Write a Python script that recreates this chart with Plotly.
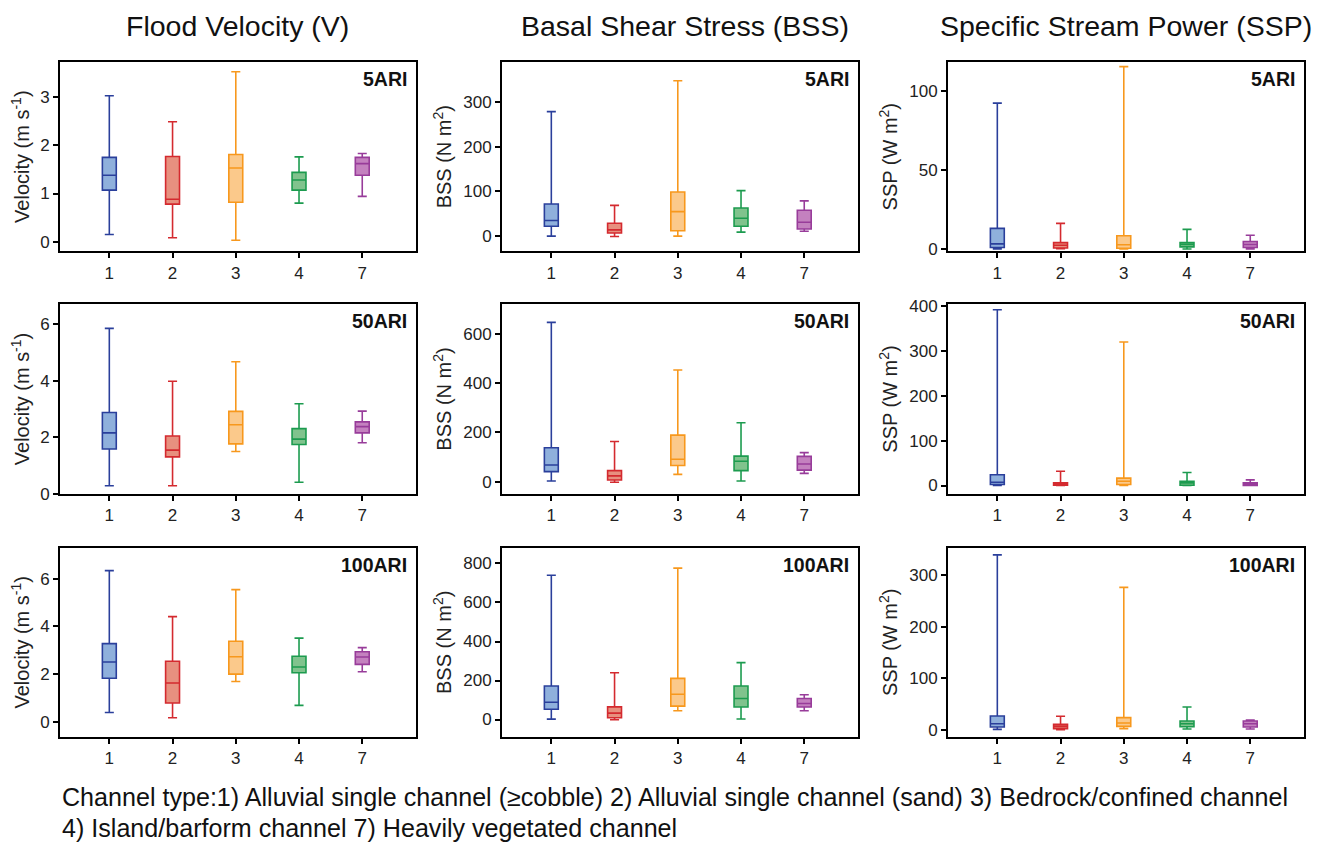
import plotly.graph_objects as go

# calibration of page placement (body margin / capture offset), measured on previous renders
X_OFF = 8
Y_OFF = 16
Y_SCALE = 0.979
FW, FH = 1305, 860

categories = ["1", "2", "3", "4", "7"]
colors_line = ["#2a3f9b", "#d42a2f", "#f7981d", "#1c9b4f", "#983c9a"]
colors_fill = ["#8fb0dc", "#e7907f", "#fbc98b", "#80c38d", "#c481bf"]

# ---- Flood velocity (m s-1) ----
v5_max = [3.03, 2.49, 3.53, 1.76, 1.83]
v5_q3 = [1.75, 1.77, 1.81, 1.44, 1.75]
v5_med = [1.38, 0.88, 1.53, 1.28, 1.62]
v5_q1 = [1.07, 0.78, 0.82, 1.07, 1.38]
v5_min = [0.15, 0.08, 0.03, 0.80, 0.94]

v50_max = [5.85, 3.98, 4.67, 3.18, 2.92]
v50_q3 = [2.87, 2.04, 2.91, 2.30, 2.54]
v50_med = [2.15, 1.54, 2.44, 1.93, 2.37]
v50_q1 = [1.58, 1.30, 1.76, 1.74, 2.15]
v50_min = [0.28, 0.28, 1.49, 0.40, 1.80]

v100_max = [6.34, 4.41, 5.54, 3.51, 3.11]
v100_q3 = [3.28, 2.54, 3.38, 2.75, 2.94]
v100_med = [2.51, 1.63, 2.73, 2.30, 2.72]
v100_q1 = [1.83, 0.79, 2.00, 2.06, 2.41]
v100_min = [0.39, 0.17, 1.69, 0.69, 2.10]

# ---- Basal shear stress (N m2) ----
b5_max = [279, 69, 348, 102, 79]
b5_q3 = [72, 29, 99, 63, 58]
b5_med = [35, 14, 55, 40, 31]
b5_q1 = [22, 7, 12, 22, 16]
b5_min = [0, -1, 0, 9, 11]

b50_max = [646, 163, 453, 239, 118]
b50_q3 = [138, 45, 189, 104, 103]
b50_med = [68, 24, 91, 83, 72]
b50_q1 = [41, 7, 66, 45, 47]
b50_min = [3, -2, 30, 3, 34]

b100_max = [740, 240, 776, 292, 127]
b100_q3 = [172, 65, 211, 172, 108]
b100_med = [89, 33, 130, 108, 82]
b100_q1 = [53, 9, 69, 64, 64]
b100_min = [2, -1, 45, 3, 45]

# ---- Specific stream power (W m2) ----
s5_max = [92.3, 16.2, 115.4, 12.4, 8.7]
s5_q3 = [13.0, 4.0, 8.3, 4.0, 4.7]
s5_med = [3.2, 2.3, 2.6, 2.8, 2.8]
s5_q1 = [0.9, 0.6, 0.4, 1.3, 0.9]
s5_min = [0.0, 0.2, 0.0, 0.0, 0.0]

s50_max = [392, 32, 320, 29, 12.6]
s50_q3 = [24, 6, 16.4, 9.7, 6]
s50_med = [7.4, 3, 9.7, 6, 3]
s50_q1 = [2.2, 0.5, 2.2, 0.7, 0.3]
s50_min = [0, 0, 0, 0, 0]

s100_max = [339, 26, 276, 44, 18.7]
s100_q3 = [26.5, 10.3, 23.3, 16.8, 16.8]
s100_med = [11.6, 6.5, 13, 11.6, 11.6]
s100_q1 = [5.2, 2, 6.5, 5.8, 5.2]
s100_min = [0.6, 0, 2, 1.3, 1.3]

col_titles = ["Flood Velocity (V)", "Basal Shear Stress (BSS)", "Specific Stream Power (SSP)"]
y_titles = ["Velocity (m s<sup>-1</sup>)", "BSS (N m<sup>2</sup>)", "SSP (W m<sup>2</sup>)"]
row_labels = ["5ARI", "50ARI", "100ARI"]

panels = [
    [(v5_max, v5_q3, v5_med, v5_q1, v5_min), (b5_max, b5_q3, b5_med, b5_q1, b5_min), (s5_max, s5_q3, s5_med, s5_q1, s5_min)],
    [(v50_max, v50_q3, v50_med, v50_q1, v50_min), (b50_max, b50_q3, b50_med, b50_q1, b50_min), (s50_max, s50_q3, s50_med, s50_q1, s50_min)],
    [(v100_max, v100_q3, v100_med, v100_q1, v100_min), (b100_max, b100_q3, b100_med, b100_q1, b100_min), (s100_max, s100_q3, s100_med, s100_q1, s100_min)],
]

y_ranges = [
    [[-0.2, 3.73], [-34, 390], [-1.5, 118.3]],
    [[0, 6.7], [-48, 719], [-18, 404]],
    [[-0.63, 7.3], [-89, 881], [-14, 353]],
]
y_dticks = [
    [1, 100, 50],
    [2, 200, 100],
    [2, 200, 100],
]

# panel frame positions in window pixels (as in the reference)
col_px = [(60, 416), (502, 858), (948, 1304)]
row_px = [(63, 252), (305, 494), (548, 737)]


def px_x(x):
    return (x - X_OFF) / FW


def px_y(y):
    return 1 - ((y - Y_OFF) / Y_SCALE) / FH


FONT = "Liberation Sans, Arial, sans-serif"

fig = go.Figure()
layout_axes = {}
annotations = []

for r in range(3):
    for c in range(3):
        idx = r * 3 + c + 1
        xname = "x" if idx == 1 else f"x{idx}"
        yname = "y" if idx == 1 else f"y{idx}"
        mx, q3, med, q1, mn = panels[r][c]
        for k in range(5):
            fig.add_trace(go.Box(
                x=[k], q1=[q1[k]], median=[med[k]], q3=[q3[k]],
                lowerfence=[mn[k]], upperfence=[mx[k]],
                width=0.22, whiskerwidth=0.65,
                line=dict(color=colors_line[k], width=1.6),
                fillcolor=colors_fill[k], boxpoints=False,
                showlegend=False, xaxis=xname, yaxis=yname,
            ))
        x0, x1 = col_px[c]
        y0, y1 = row_px[r]
        xk = "xaxis" if idx == 1 else f"xaxis{idx}"
        yk = "yaxis" if idx == 1 else f"yaxis{idx}"
        layout_axes[xk] = dict(
            domain=[px_x(x0), px_x(x1)], anchor=yname, range=[-0.78, 4.85],
            tickvals=list(range(5)), ticktext=categories,
            showline=True, mirror=True, linecolor="black", linewidth=2,
            ticks="outside", ticklen=5, tickwidth=1.5, tickcolor="black",
            showgrid=False, zeroline=False,
            tickfont=dict(family=FONT, size=17, color="#222"),
        )
        layout_axes[yk] = dict(
            domain=[px_y(y1), px_y(y0)], anchor=xname, range=y_ranges[r][c],
            dtick=y_dticks[r][c], tick0=0,
            showline=True, mirror=True, linecolor="black", linewidth=2,
            ticks="outside", ticklen=5, tickwidth=1.5, tickcolor="black",
            showgrid=False, zeroline=False,
            tickfont=dict(family=FONT, size=17, color="#222"),
            title=dict(text=y_titles[c], font=dict(family=FONT, size=20, color="#222"), standoff=6),
        )
        annotations.append(dict(
            x=px_x(x1 - 7), y=px_y(y0 + 17), xref="paper", yref="paper",
            xanchor="right", yanchor="middle", showarrow=False,
            text=f"<b>{row_labels[r]}</b>",
            font=dict(family=FONT, size=19.5, color="#111"),
        ))

title_centers = [238, 685, 1126]
for c in range(3):
    annotations.append(dict(
        x=px_x(title_centers[c]), y=px_y(27), xref="paper", yref="paper",
        xanchor="center", yanchor="middle", showarrow=False,
        text=col_titles[c], font=dict(family=FONT, size=28.5, color="#111"),
    ))

caption_lines = [
    "Channel type:1) Alluvial single channel (\u2265cobble) 2) Alluvial single channel (sand) 3) Bedrock/confined channel",
    "4) Island/barform channel 7) Heavily vegetated channel",
]
for i, line in enumerate(caption_lines):
    annotations.append(dict(
        x=px_x(60), y=px_y(797 + 31 * i), xref="paper", yref="paper",
        xanchor="left", yanchor="middle", showarrow=False,
        text=line, font=dict(family=FONT, size=25.1, color="#111"),
    ))

fig.update_layout(
    width=FW, height=FH, margin=dict(l=0, r=0, t=0, b=0),
    paper_bgcolor="white", plot_bgcolor="white",
    annotations=annotations, showlegend=False, **layout_axes,
)

fig.write_html("out.html")
